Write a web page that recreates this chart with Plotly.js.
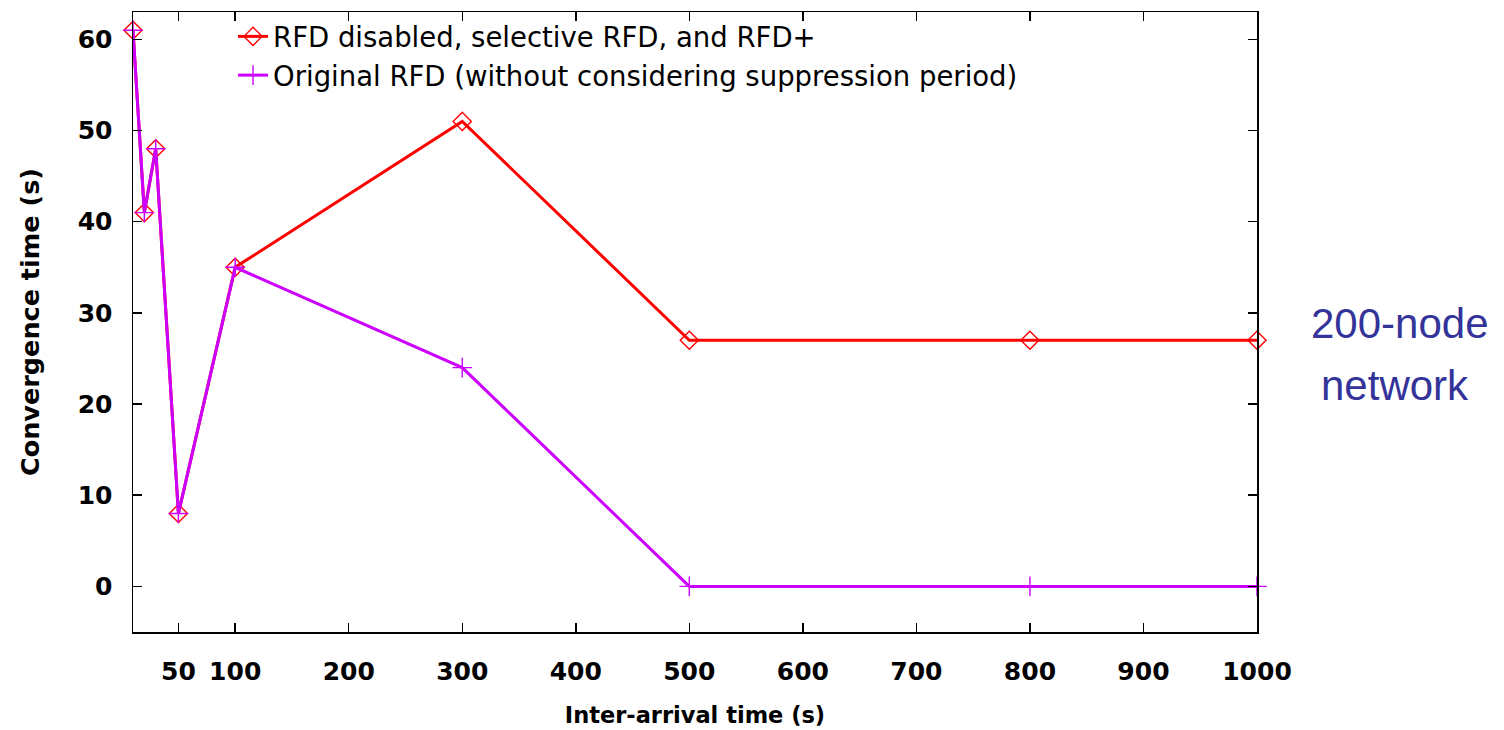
<!DOCTYPE html>
<html><head><meta charset="utf-8">
<script src="https://cdn.plot.ly/plotly-3.0.1.min.js"></script>
<style>body{margin:0;background:#fff}#chart{width:1504px;height:730px}</style>
</head><body><div id="chart"></div>
<script>
const interArrival = [10, 20, 30, 50, 100, 300, 500, 800, 1000];
const rfdDisabled = [61, 41, 48, 8, 35, 51, 27, 27, 27];
const originalRFD = [61, 41, 48, 8, 35, 24, 0, 0, 0];
const seriesNames = ["RFD disabled, selective RFD, and RFD+", "Original RFD (without considering suppression period)"];
const xTicks = [50, 100, 200, 300, 400, 500, 600, 700, 800, 900, 1000];
const yTicks = [0, 10, 20, 30, 40, 50, 60];

const traces = [
  {x: interArrival, y: rfdDisabled, name: seriesNames[0], mode: 'lines+markers', cliponaxis: false,
   line: {color: '#ff0000', width: 3},
   marker: {symbol: 'diamond-open', size: 14, color: '#ff0000', line: {width: 1.4, color: '#ff0000'}}},
  {x: interArrival, y: originalRFD, name: seriesNames[1], mode: 'lines+markers', cliponaxis: false,
   line: {color: '#cc00ff', width: 3},
   marker: {symbol: 'cross-thin-open', size: 14, color: '#cc00ff', line: {width: 1.4, color: '#cc00ff'}}}
];

const tickFont = {family: 'DejaVu Sans', size: 25, color: '#000', weight: 'bold'};
const layout = {
  width: 1504, height: 730,
  margin: {l: 133, r: 247, t: 12, b: 98},
  paper_bgcolor: '#fff', plot_bgcolor: '#fff',
  showlegend: true,
  legend: {x: 0.089, y: 1.0, xanchor: 'left', yanchor: 'top', bgcolor: 'rgba(0,0,0,0)',
           font: {family: 'DejaVu Sans', size: 27.5, color: '#000'},
           tracegroupgap: 0},
  xaxis: {range: [10, 1000], tickvals: xTicks, ticktext: xTicks.map(String),
          ticks: 'inside', ticklen: 9, tickwidth: 1.5, tickcolor: '#000',
          showline: true, linecolor: '#000', linewidth: 1.5, mirror: 'ticks',
          showgrid: false, zeroline: false, tickfont: tickFont, ticklabelstandoff: 16,
          title: {text: 'Inter-arrival time (s)', font: {family: 'DejaVu Sans', size: 22.5, color: '#000', weight: 'bold'}, standoff: 22}},
  yaxis: {range: [-5, 63], tickvals: yTicks,
          ticks: 'inside', ticklen: 9, tickwidth: 1.5, tickcolor: '#000',
          showline: true, linecolor: '#000', linewidth: 1.5, mirror: 'ticks',
          showgrid: false, zeroline: false, tickfont: tickFont, ticklabelstandoff: 14,
          title: {text: 'Convergence time (s)', font: {family: 'DejaVu Sans', size: 25.5, color: '#000', weight: 'bold'}, standoff: 31}},
  annotations: [
    {xref: 'paper', yref: 'paper', x: 1.1272, y: 0.498, xanchor: 'center', yanchor: 'middle',
     text: '200-node', showarrow: false, font: {family: 'Liberation Sans', size: 42, color: '#333399'}},
    {xref: 'paper', yref: 'paper', x: 1.1228, y: 0.397, xanchor: 'center', yanchor: 'middle',
     text: 'network', showarrow: false, font: {family: 'Liberation Sans', size: 42, color: '#333399'}}
  ]
};
Plotly.newPlot('chart', traces, layout, {displayModeBar: false, staticPlot: true});
</script></body></html>
